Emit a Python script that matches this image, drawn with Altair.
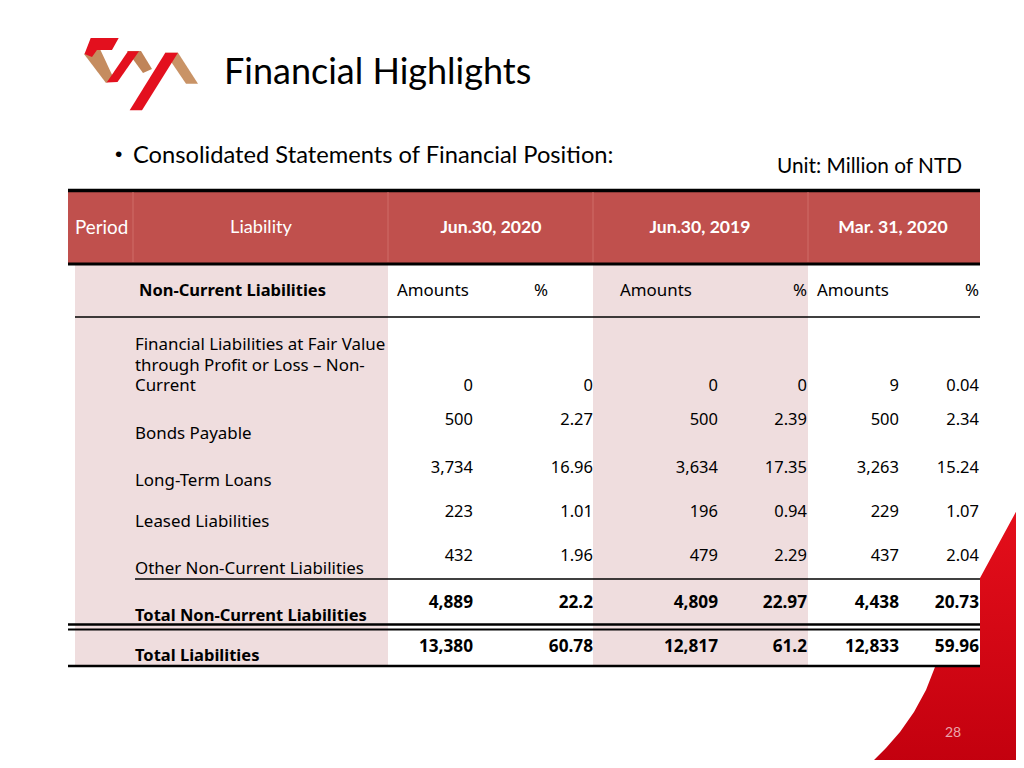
import altair as alt
import pandas as pd

# ---------------- data ----------------
title_text = "Financial Highlights"
subtitle_text = "Consolidated Statements of Financial Position:"
unit_text = "Unit: Million of NTD"
page_no = "28"

header_labels = ["Period", "Liability", "Jun.30, 2020", "Jun.30, 2019", "Mar. 31, 2020"]
section_label = "Non-Current Liabilities"
sub_labels = ["Amounts", "%", "Amounts", "%", "Amounts", "%"]

row_label_lines = [
    ["Financial Liabilities at Fair Value", "through Profit or Loss \u2013 Non-", "Current"],
    ["Bonds Payable"],
    ["Long-Term Loans"],
    ["Leased Liabilities"],
    ["Other Non-Current Liabilities"],
    ["Total Non-Current Liabilities"],
    ["Total Liabilities"],
]
amt_jun2020 = [0, 500, 3734, 223, 432, 4889, 13380]
pct_jun2020 = [0, 2.27, 16.96, 1.01, 1.96, 22.2, 60.78]
amt_jun2019 = [0, 500, 3634, 196, 479, 4809, 12817]
pct_jun2019 = [0, 2.39, 17.35, 0.94, 2.29, 22.97, 61.2]
amt_mar2020 = [9, 500, 3263, 229, 437, 4438, 12833]
pct_mar2020 = [0.04, 2.34, 15.24, 1.07, 2.04, 20.73, 59.96]
bold_rows = [False, False, False, False, False, True, True]

# ---------------- layout (pixel positions of the slide) ----------------
W, H = 1008, 752
XS = alt.Scale(domain=[8, 8 + W])
YS = alt.Scale(domain=[8 + H, 8])
BODY = "Noto Sans"
HEAD = "Lato"

col_right = [473, 593, 718, 807, 899, 979]
value_y = [386, 420, 468, 512, 556, 603, 647]
label_y = [386, 434, 481, 522, 569, 616, 656]   # centre of the last line of each label
line_gap = 20.5
label_x = 135


def X(f="x"):
    return alt.X(f"{f}:Q", scale=XS, axis=None)


def Y(f="y"):
    return alt.Y(f"{f}:Q", scale=YS, axis=None)


def fmt_amt(v):
    return f"{v:,}"


def fmt_pct(v):
    return "%g" % v


def polygon_df(shapes):
    rows = []
    for k, (c, pts) in shapes.items():
        for i, (px, py) in enumerate(pts + [pts[0]]):
            rows.append({"shape": k, "i": i, "x": px, "y": py, "c": c})
    return pd.DataFrame(rows)


layers = []

# red corner decoration (filled polygon)
corner_pts = [(1030, 486), (980, 578), (935, 667), (926, 690), (914, 712), (900, 732),
              (886, 748), (874, 760), (866, 770), (1030, 770)]
corner_df = polygon_df({"corner": ("#E0000F", corner_pts)})
layers.append(
    alt.Chart(corner_df).mark_line(
        filled=True, strokeWidth=0,
        color=alt.Gradient(
            gradient="linear",
            stops=[alt.GradientStop(color="#E8101C", offset=0),
                   alt.GradientStop(color="#C2000E", offset=1)],
            x1=0, x2=0, y1=0, y2=1,
        ),
    ).encode(x=X(), y=Y(), order="i:Q")
)

# logo polygons
logo_shapes = {
    "g1": ("#C58C5F", [(84, 54), (100, 49), (114, 79), (106, 83)]),
    "g2": ("#C08458", [(127, 51), (141, 51), (152, 69), (143, 73)]),
    "g3": ("#C99366", [(165, 52.7), (178, 52.7), (198, 83.7), (186, 83.7)]),
    "r1": ("#E3101E", [(90.7, 38), (118.7, 38), (112, 50), (97, 50), (92, 57), (84.5, 54)]),
    "r2": ("#E3101E", [(106.7, 82.5), (117.5, 82), (139, 51.3), (128, 51.3)]),
    "r3": ("#E3101E", [(129.7, 110.3), (142, 110.3), (178, 52.7), (165.3, 52.7)]),
}
layers.append(
    alt.Chart(polygon_df(logo_shapes)).mark_line(filled=True, strokeWidth=0).encode(
        x=X(), y=Y(), detail="shape:N", order="i:Q",
        color=alt.Color("c:N", scale=None),
    )
)

# rects: white table body, red header, pink columns
rects = pd.DataFrame([
    {"x": 68, "x2": 980, "y": 264, "y2": 667, "c": "#FFFFFF"},
    {"x": 68, "x2": 980, "y": 190, "y2": 264, "c": "#C0504D"},
    {"x": 75, "x2": 388, "y": 265, "y2": 666, "c": "#EFDDDE"},
    {"x": 593, "x2": 808, "y": 265, "y2": 666, "c": "#EFDDDE"},
])
layers.append(
    alt.Chart(rects).mark_rect().encode(
        x=X(), x2="x2:Q", y=Y(), y2="y2:Q", color=alt.Color("c:N", scale=None)
    )
)

# rules
rules = pd.DataFrame([
    {"x": 68, "x2": 980, "y": 190.5, "w": 3.5, "c": "#000000"},
    {"x": 68, "x2": 980, "y": 264, "w": 3, "c": "#000000"},
    {"x": 75, "x2": 980, "y": 317, "w": 1.5, "c": "#000000"},
    {"x": 135, "x2": 980, "y": 579, "w": 1.5, "c": "#000000"},
    {"x": 68, "x2": 980, "y": 624.5, "w": 2.5, "c": "#000000"},
    {"x": 68, "x2": 980, "y": 629.5, "w": 2, "c": "#000000"},
    {"x": 68, "x2": 980, "y": 666, "w": 2.5, "c": "#000000"},
])
layers.append(
    alt.Chart(rules).mark_rule().encode(
        x=X(), x2="x2:Q", y=Y(),
        size=alt.Size("w:Q", scale=None),
        color=alt.Color("c:N", scale=None),
    )
)
seps = pd.DataFrame({"x": [133, 388, 593, 808], "y": [192] * 4, "y2": [262] * 4})
layers.append(
    alt.Chart(seps).mark_rule(color="#CF6C69", strokeWidth=1).encode(
        x=X(), y=Y(), y2="y2:Q"
    )
)


def text_layer(items, align="left", size=16, weight="normal", color="#000000", font=BODY):
    df = pd.DataFrame(items, columns=["x", "y", "t"])
    return alt.Chart(df).mark_text(
        align=align, baseline="middle", fontSize=size, fontWeight=weight,
        color=color, font=font, lineBreak="\n", lineHeight=line_gap,
    ).encode(x=X(), y=Y(), text="t:N")


# title, subtitle, unit
layers.append(text_layer([(224, 73, title_text)], size=36, font=HEAD))
layers.append(text_layer([(115, 155, "\u2022")], size=21, font="Liberation Sans"))
layers.append(text_layer([(133, 156, subtitle_text)], size=23.7, font=HEAD))
layers.append(text_layer([(777, 167, unit_text)], size=20.8, font=HEAD))
layers.append(text_layer([(953, 733, page_no)], align="center", size=14,
                         color="#EBA5AA", font=HEAD))

# header
layers.append(text_layer([(75, 228, header_labels[0])], size=18.8, color="#FFFFFF", font=HEAD))
layers.append(text_layer([(261, 228, header_labels[1])], align="center", size=18.2,
                         color="#FFFFFF", font=HEAD))
layers.append(text_layer([(491, 228, header_labels[2]), (700, 228, header_labels[3]),
                          (893, 228, header_labels[4])], align="center", size=17.6,
                         weight="bold", color="#FFFFFF", font=HEAD))

# sub-header
layers.append(text_layer([(139, 291, section_label)], size=16.5, weight="bold"))
layers.append(text_layer([(397, 291, sub_labels[0]), (620, 291, sub_labels[2]),
                          (817, 291, sub_labels[4])], size=16.9))
layers.append(text_layer([(541, 291, sub_labels[1])], align="center", size=16.9))
layers.append(text_layer([(807, 291, sub_labels[3]), (979, 291, sub_labels[5])],
                         align="right", size=16.9))

# row labels and values (multi-line labels as one text; y = first line)
lab_norm, lab_bold, val_norm, val_bold = [], [], [], []
for r, lines in enumerate(row_label_lines):
    n = len(lines)
    yy = label_y[r] - (n - 1) * line_gap
    (lab_bold if bold_rows[r] else lab_norm).append((label_x, yy, "\n".join(lines)))
    vals = [fmt_amt(amt_jun2020[r]), fmt_pct(pct_jun2020[r]),
            fmt_amt(amt_jun2019[r]), fmt_pct(pct_jun2019[r]),
            fmt_amt(amt_mar2020[r]), fmt_pct(pct_mar2020[r])]
    for cx, v in zip(col_right, vals):
        (val_bold if bold_rows[r] else val_norm).append((cx, value_y[r], v))

layers.append(text_layer(lab_norm, size=16.9))
layers.append(text_layer(lab_bold, size=16.5, weight="bold"))
layers.append(text_layer(val_norm, align="right", size=16.5))
layers.append(text_layer(val_bold, align="right", size=17.2, weight="bold"))

chart = alt.layer(*layers).properties(
    width=W, height=H, padding=0, autosize=alt.AutoSizeParams(type="none"),
    background="#FFFFFF",
).configure_view(strokeWidth=0)

chart.save("out.html", embed_options={"renderer": "svg", "actions": False})
